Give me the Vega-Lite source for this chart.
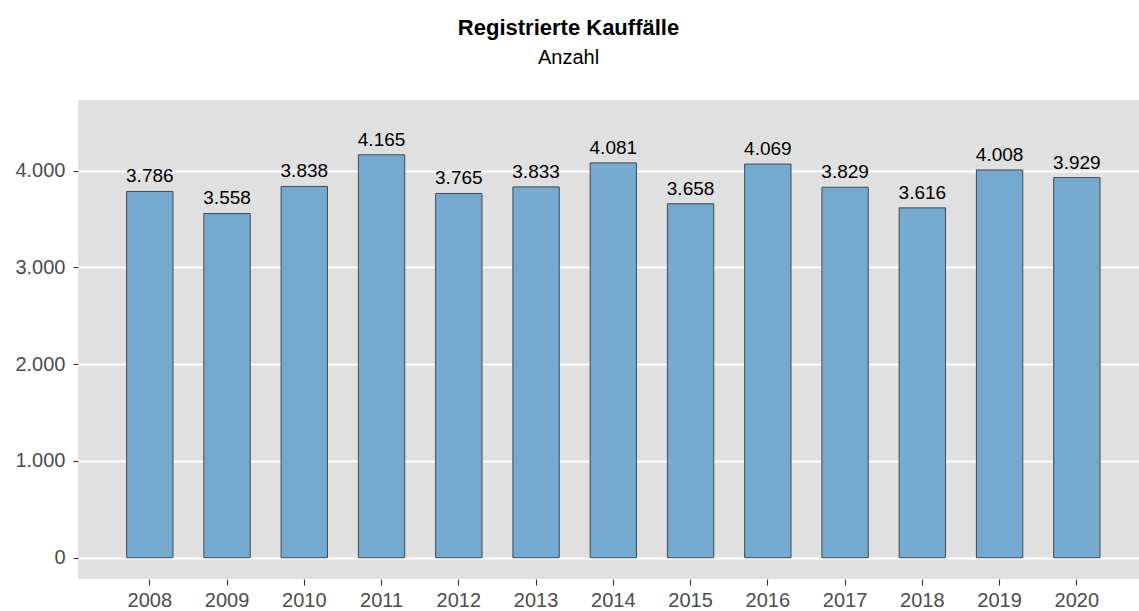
{
  "$schema": "https://vega.github.io/schema/vega-lite/v6.json",
  "width": 1061,
  "height": 479,
  "autosize": {"type": "none"},
  "padding": {"left": 78, "top": 100, "right": 0, "bottom": 32},
  "background": "white",
  "title": {
    "text": "Registrierte Kauffälle",
    "subtitle": "Anzahl",
    "anchor": "middle",
    "frame": "group",
    "dx": -40,
    "offset": 31,
    "font": "Liberation Sans",
    "fontSize": 22,
    "fontWeight": "bold",
    "color": "#000000",
    "subtitleFont": "Liberation Sans",
    "subtitleFontSize": 20,
    "subtitleColor": "#000000",
    "subtitlePadding": 8
  },
  "config": {
    "locale": {
      "number": {"decimal": ",", "thousands": ".", "grouping": [3], "currency": ["", " €"]}
    },
    "view": {"fill": "#E0E0E0", "stroke": null},
    "axis": {
      "domain": false,
      "labelFont": "Liberation Sans",
      "labelColor": "#4D4D4D",
      "tickColor": "#333333",
      "tickWidth": 1.1
    }
  },
  "data": {
    "values": [
      {"Jahr": "2008", "Anzahl": 3786},
      {"Jahr": "2009", "Anzahl": 3558},
      {"Jahr": "2010", "Anzahl": 3838},
      {"Jahr": "2011", "Anzahl": 4165},
      {"Jahr": "2012", "Anzahl": 3765},
      {"Jahr": "2013", "Anzahl": 3833},
      {"Jahr": "2014", "Anzahl": 4081},
      {"Jahr": "2015", "Anzahl": 3658},
      {"Jahr": "2016", "Anzahl": 4069},
      {"Jahr": "2017", "Anzahl": 3829},
      {"Jahr": "2018", "Anzahl": 3616},
      {"Jahr": "2019", "Anzahl": 4008},
      {"Jahr": "2020", "Anzahl": 3929}
    ]
  },
  "encoding": {
    "x": {
      "field": "Jahr",
      "type": "nominal",
      "title": null,
      "scale": {"paddingInner": 0.4, "paddingOuter": 0.567, "align": 0.555},
      "axis": {
        "labelAngle": 0,
        "labelFontSize": 20,
        "tickSize": 6,
        "labelPadding": 5,
        "grid": false
      }
    },
    "y": {
      "field": "Anzahl",
      "type": "quantitative",
      "title": null,
      "scale": {"domain": [-220, 4731], "nice": false, "zero": false},
      "axis": {
        "values": [0, 1000, 2000, 3000, 4000],
        "format": ",d",
        "labelFontSize": 20,
        "tickSize": 5,
        "labelPadding": 8,
        "grid": true,
        "gridColor": "#FFFFFF",
        "gridWidth": 2
      }
    }
  },
  "layer": [
    {
      "mark": {"type": "bar", "fill": "#74AAD0", "stroke": "#3F4A52", "strokeWidth": 1},
      "encoding": {"y2": {"datum": 0}}
    },
    {
      "mark": {
        "type": "text",
        "font": "Liberation Sans",
        "fontSize": 19,
        "color": "#000000",
        "baseline": "alphabetic",
        "dy": -9
      },
      "encoding": {"text": {"field": "Anzahl", "type": "quantitative", "format": ",d"}}
    }
  ]
}
